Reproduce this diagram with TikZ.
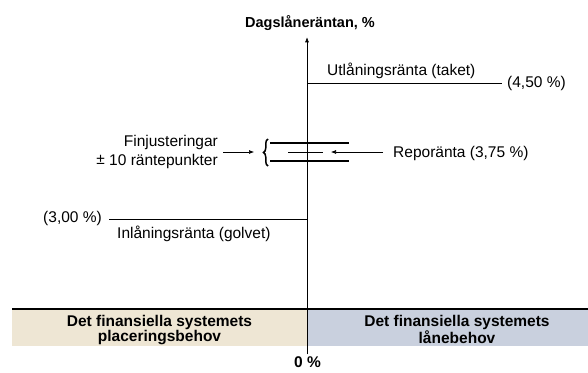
\documentclass[tikz,border=0pt]{standalone}
\usepackage{fontspec}
\setmainfont{Liberation Sans}
\usetikzlibrary{arrows.meta,decorations.pathreplacing}
\definecolor{placering}{HTML}{EEE6D4}
\definecolor{lane}{HTML}{C9D0DE}

\begin{document}
\begin{tikzpicture}[x=1pt,y=-1pt,
    txt/.style={inner sep=0,font=\fontsize{15.5}{19}\selectfont},
    hd/.style={inner sep=0,font=\fontsize{15.5}{15}\selectfont\bfseries,align=center},
    rate/.style={line width=0.6pt},
    band/.style={line width=1.8pt},
    pil/.style={line width=0.6pt,-{Latex[length=5pt,width=4pt]}}]%

\useasboundingbox (0,0) rectangle (588,372);

% behovsfalten
\fill[placering] (12,309) rectangle (307,346);
\fill[lane] (307,309) rectangle (588,346);
\draw[band] (12,309) -- (588,309);
\node[hd,anchor=north] (plac) at (159.5,315.5) {Det finansiella systemets\\placeringsbehov};
\node[hd,anchor=north] (lan) at (457,315.5) {Det finansiella systemets\\lånebehov};

% axeln
\node[hd,anchor=base,font=\fontsize{14.5}{15}\selectfont\bfseries] (title) at (310,27) {Dagslåneräntan, \%};
\node[hd,anchor=base] (zero) at (307.5,367.5) {0 \%};
\draw[pil,shorten <=2pt,shorten >=7pt] (zero.north -| 307,0) -- (title.south -| 307,0);

% taket
\coordinate (takL) at (307,83);
\coordinate (takR) at (502,83);
\draw[rate] (takL) -- (takR);
\node[txt,anchor=base west] (tak) at (507,87) {(4,50 \%)};
\node[txt,anchor=base west] (takN) at (327,75) {Utlåningsränta (taket)};

% golvet
\coordinate (golvR) at (307,219);
\node[txt,anchor=base east] (golv) at (102,222) {(3,00 \%)};
\draw[rate,shorten <=7pt] (golv.east |- golvR) -- (golvR);
\node[txt,anchor=base west] (golvN) at (117,238) {Inlåningsränta (golvet)};

% reporantan med korridor
\draw[band] (270,143) -- (349,143);
\draw[band] (270,161) -- (349,161);
\coordinate (repoL) at (288,152);
\coordinate (repoR) at (323,152);
\draw[rate] (repoL) -- (repoR);
\node[txt,anchor=base west] (repo) at (393,157) {Reporänta (3,75 \%)};
\draw[pil,shorten <=10pt,shorten >=8pt] (repo.west |- repoR) -- (repoR);

\draw[line width=1.5pt,decorate,decoration={brace,amplitude=4.5pt}] (268,166) -- (268,139);
\coordinate (brace) at (254,152);
\node[txt,anchor=east,align=right] (fin) at (218,151.5) {Finjusteringar\\\raisebox{1pt}{±} 10 räntepunkter};
\draw[pil,shorten <=5pt] (fin.east |- brace) -- (brace);

\end{tikzpicture}
\end{document}
